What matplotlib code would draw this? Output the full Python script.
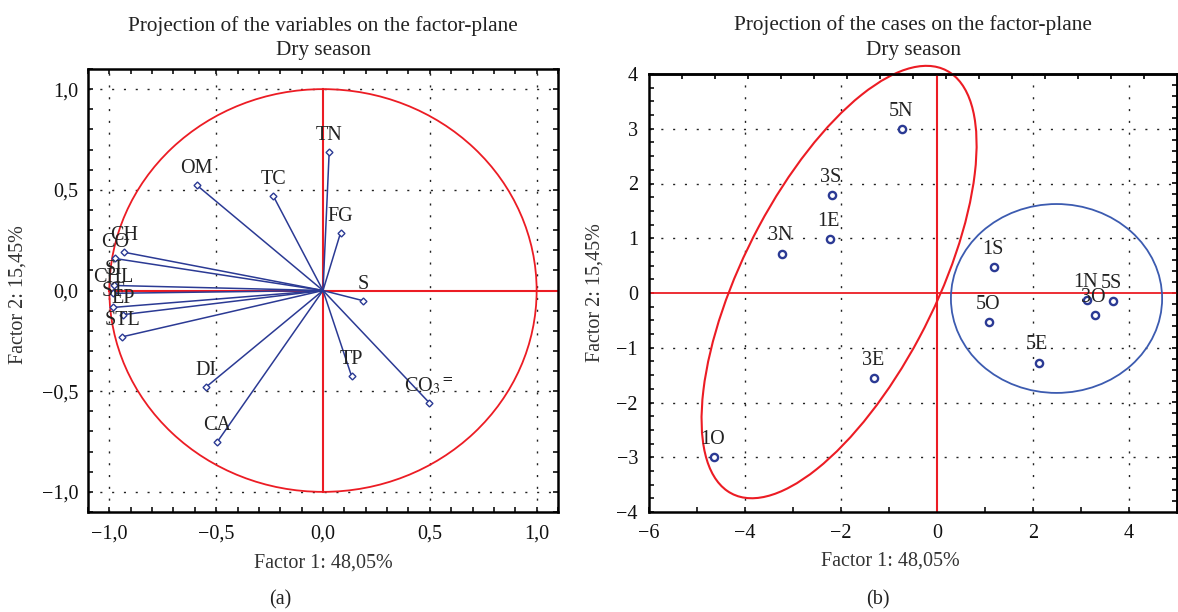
import numpy as np
import matplotlib
matplotlib.use("Agg")
import matplotlib.pyplot as plt
from matplotlib.patches import Ellipse, Circle
from matplotlib.ticker import MultipleLocator, FuncFormatter

plt.rcParams['font.family'] = ['Liberation Serif', 'DejaVu Serif']
plt.rcParams['mathtext.fontset'] = 'stix'
plt.rcParams['font.size'] = 14.5

# ---- data: variables (panel a) ----
var_names = ['TN', 'OM', 'TC', 'FG', 'S', 'TP', 'CO$_3$$^{=}$', 'DI', 'CA',
             'CH', 'CO', 'SI', 'CHL', 'ST', 'EP', 'STL']
var_f1 = [0.029, -0.592, -0.233, 0.082, 0.189, 0.134, 0.497, -0.548, -0.495,
          -0.931, -0.974, -0.980, -0.984, -0.982, -0.936, -0.940]
var_f2 = [0.689, 0.524, 0.470, 0.286, -0.051, -0.426, -0.557, -0.480, -0.752,
          0.190, 0.159, 0.025, -0.014, -0.084, -0.120, -0.230]

# ---- data: cases (panel b) ----
case_names = ['5N', '3S', '1E', '3N', '3E', '1O', '1S', '5O', '5E', '1N', '5S', '3O']
case_f1 = [-0.72, -2.19, -2.23, -3.23, -1.31, -4.65, 1.19, 1.09, 2.12, 3.13, 3.67, 3.29]
case_f2 = [2.99, 1.79, 0.99, 0.72, -1.55, -3.00, 0.47, -0.53, -1.27, -0.13, -0.145, -0.40]

xlabel = 'Factor 1: 48,05%'
ylabel = 'Factor 2: 15,45%'
title_a = 'Projection of the variables on the factor-plane\nDry season'
title_b = 'Projection of the cases on the factor-plane\nDry season'

RED = '#ec1c24'
BLUE = '#2b3a94'
BLUE2 = '#3c5bb0'
TFS = 15.3

fig = plt.figure(figsize=(11.78, 6.12), dpi=100)
W, H = 1178, 612

def fig_axes(l, t, r, b):
    return fig.add_axes([l / W, 1 - b / H, (r - l) / W, (b - t) / H])

def fmt_dec(v, pos):
    s = f"{v:.1f}".replace('.', ',')
    if v < -1e-9:
        s = '\u2212' + s.lstrip('-')
    elif s.startswith('-'):
        s = s[1:]
    return s

def fmt_int(v, pos):
    s = f"{v:.0f}"
    if v < -1e-9:
        s = '\u2212' + s.lstrip('-')
    elif s.startswith('-'):
        s = s[1:]
    return s

grid_kw = dict(color='#222222', linestyle=(0, (1.5, 7)), linewidth=1.0, zorder=0.5)

# ================= Panel (a) =================
ax = fig_axes(88, 69, 558, 512)
ax.set_xlim(-1.1, 1.1)
ax.set_ylim(-1.1, 1.1)
for g in [-1, -0.5, 0.5, 1]:
    ax.axvline(g, **grid_kw)
    ax.axhline(g, **grid_kw)
ax.add_patch(Circle((0, 0), 1.0, fill=False, edgecolor=RED, linewidth=1.3, zorder=2))
ax.plot([-1, 1.1], [0, 0], color=RED, linewidth=1.5, zorder=2)
ax.plot([0, 0], [-1, 1], color=RED, linewidth=1.5, zorder=2)
for name, x, y in zip(var_names, var_f1, var_f2):
    ax.plot([0, x], [0, y], color=BLUE, linewidth=1.1, zorder=3)
    ax.plot(x, y, marker='D', markersize=3.5, mfc='white', mec=BLUE, mew=1.0, zorder=4)
    ax.annotate(name, (x, y), xytext=(0, 8.5), textcoords='offset points',
                ha='center', va='baseline', fontsize=14.5, color='#222222', zorder=5)
ax.xaxis.set_major_locator(MultipleLocator(0.5))
ax.yaxis.set_major_locator(MultipleLocator(0.5))
ax.xaxis.set_minor_locator(MultipleLocator(0.1))
ax.yaxis.set_minor_locator(MultipleLocator(0.1))
ax.xaxis.set_major_formatter(FuncFormatter(fmt_dec))
ax.yaxis.set_major_formatter(FuncFormatter(fmt_dec))
ax.tick_params(which='both', direction='in', top=True, right=True, length=3.5, width=1.2,
               labelsize=14.5, colors='#111111')
ax.tick_params(axis='x', pad=9)
ax.tick_params(axis='y', pad=7)
for sp in ax.spines.values():
    sp.set_linewidth(1.8)
ax.set_xlabel(xlabel, fontsize=14.5, color='#333333')
ax.set_ylabel(ylabel, fontsize=14.5, color='#333333')
ax.xaxis.set_label_coords(0.5, -0.115)
ax.xaxis.label.set_va('center')
ax.yaxis.set_label_coords(-0.149, 0.49)
ax.yaxis.label.set_va('center')
ax.set_title(title_a, fontsize=TFS, pad=10, linespacing=1.38, color='#222222')

# ================= Panel (b) =================
bx = fig_axes(649, 74, 1177, 512)
bx.set_xlim(-6, 5)
bx.set_ylim(-4, 4)
for g in [-4, -2, 2, 4]:
    bx.axvline(g, **grid_kw)
for g in [-3, -2, -1, 1, 2, 3]:
    bx.axhline(g, **grid_kw)
bx.axhline(0, color=RED, linewidth=1.3, zorder=2)
bx.axvline(0, color=RED, linewidth=1.5, zorder=2)
bx.add_patch(Ellipse((-2.04, 0.20), 8.94, 3.91, angle=58.6, fill=False,
                     edgecolor=RED, linewidth=1.5, zorder=2, clip_on=False))
bx.add_patch(Ellipse((2.49, -0.10), 4.40, 3.45, fill=False,
                     edgecolor=BLUE2, linewidth=1.3, zorder=2, clip_on=False))
bx.plot(case_f1, case_f2, linestyle='none', marker='o', markersize=5.2, mfc='white',
        mec=BLUE, mew=1.7, zorder=4)
for name, x, y in zip(case_names, case_f1, case_f2):
    bx.annotate(name, (x, y), xytext=(-1, 9.5), textcoords='offset points',
                ha='center', va='baseline', fontsize=14.5, color='#222222', zorder=5)
bx.xaxis.set_major_locator(MultipleLocator(2))
bx.xaxis.set_minor_locator(MultipleLocator(1))
bx.yaxis.set_major_locator(MultipleLocator(1))
bx.yaxis.set_minor_locator(MultipleLocator(0.25))
bx.xaxis.set_major_formatter(FuncFormatter(fmt_int))
bx.yaxis.set_major_formatter(FuncFormatter(fmt_int))
bx.tick_params(which='both', direction='in', length=3.5, width=1.2, labelsize=14.5,
               colors='#111111')
bx.tick_params(axis='x', pad=9)
bx.tick_params(axis='y', pad=8)
for sp in bx.spines.values():
    sp.set_linewidth(1.8)
top = bx.secondary_xaxis('top')
top.set_ticks(np.arange(-5.31, 4.95, 0.6875))
top.tick_params(direction='in', length=3.5, width=1.2, labeltop=False)
top.spines['top'].set_linewidth(1.8)
rgt = bx.secondary_yaxis('right')
rgt.set_ticks(np.arange(-3.8, 3.9, 0.2))
rgt.tick_params(direction='in', length=3.5, width=1.2, labelright=False)
rgt.spines['right'].set_linewidth(1.8)
bx.set_xlabel(xlabel, fontsize=14.5, color='#333333')
bx.set_ylabel(ylabel, fontsize=14.5, color='#333333')
bx.xaxis.set_label_coords(0.457, -0.112)
bx.xaxis.label.set_va('center')
bx.yaxis.set_label_coords(-0.1016, 0.50)
bx.yaxis.label.set_va('center')
bx.set_title(title_b, fontsize=TFS, pad=14, linespacing=1.38, color='#222222')

fig.text(280.5 / W, 1 - 600 / H, '(a)', ha='center', va='center', fontsize=14.5, color='#222222')
fig.text(878 / W, 1 - 600 / H, '(b)', ha='center', va='center', fontsize=14.5, color='#222222')

fig.savefig('out.png', dpi=100)
